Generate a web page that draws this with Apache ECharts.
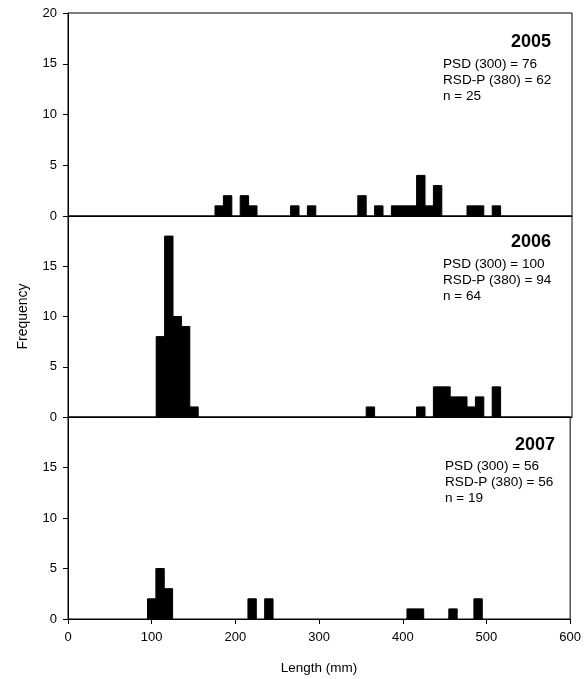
<!DOCTYPE html>
<html>
<head>
<meta charset="utf-8">
<script src="https://cdn.jsdelivr.net/npm/echarts@6/dist/echarts.min.js"></script>
<style>html,body{margin:0;padding:0;background:#fff;}#c{width:584px;height:679px;}</style>
</head>
<body>
<div id="c"></div>
<script>
// Bin centers (mm) and frequencies, 10 mm bins
var bins2005 = [180, 190, 210, 220, 270, 290, 350, 370, 390, 400, 410, 420, 430, 440, 480, 490, 510];
var freq2005 = [1, 2, 2, 1, 1, 1, 2, 1, 1, 1, 1, 4, 1, 3, 1, 1, 1];
var bins2006 = [110, 120, 130, 140, 150, 360, 420, 440, 450, 460, 470, 480, 490, 510];
var freq2006 = [8, 18, 10, 9, 1, 1, 1, 3, 3, 2, 2, 1, 2, 3];
var bins2007 = [100, 110, 120, 220, 240, 410, 420, 460, 490];
var freq2007 = [2, 5, 3, 2, 2, 1, 1, 1, 2];
var years = ['2005', '2006', '2007'];
var statLines = [
  ['PSD (300) = 76', 'RSD-P (380) = 62', 'n = 25'],
  ['PSD (300) = 100', 'RSD-P (380) = 94', 'n = 64'],
  ['PSD (300) = 56', 'RSD-P (380) = 56', 'n = 19']
];
var xTicks = [0, 100, 200, 300, 400, 500, 600];
var binWidth = 10;

var FONT = '"Liberation Sans", Arial, sans-serif';
var chart = echarts.init(document.getElementById('c'), null, {renderer: 'canvas'});

var gridTops = [13, 216, 417];
var gridHeights = [203, 201, 202];
var grids = gridTops.map(function (t, i) {
  return {left: 68, width: 504, top: t, height: gridHeights[i], show: true, borderColor: '#000', borderWidth: 1, backgroundColor: 'transparent'};
});

var xAxes = [0, 1, 2].map(function (i) {
  var last = i === 2;
  return {
    type: 'value', gridIndex: i, min: 0, max: 600, interval: 100,
    axisLine: {show: true, onZero: false, lineStyle: {color: '#000', width: 1}},
    axisTick: {show: last, inside: false, length: 5, lineStyle: {color: '#000'}},
    axisLabel: {show: last, color: '#000', fontFamily: FONT, fontSize: 13, margin: 12,
      formatter: function (v) { return xTicks.indexOf(v) >= 0 ? String(v) : ''; }},
    splitLine: {show: false},
    name: last ? 'Length (mm)' : '', nameLocation: 'middle', nameGap: 42,
    nameTextStyle: {color: '#000', fontFamily: FONT, fontSize: 13.5}
  };
});

var yAxes = [0, 1, 2].map(function (i) {
  return {
    type: 'value', gridIndex: i, min: 0, max: 20, interval: 5,
    axisLine: {show: true, lineStyle: {color: '#000', width: 1}},
    axisTick: {show: true, length: 5, lineStyle: {color: '#000'}},
    axisLabel: {color: '#000', fontFamily: FONT, fontSize: 13, margin: 11,
      formatter: function (v) { return (i > 0 && v === 20) ? '' : String(v); }},
    splitLine: {show: false},
    name: i === 1 ? 'Frequency' : '', nameLocation: 'middle', nameGap: 38,
    nameTextStyle: {color: '#000', fontFamily: FONT, fontSize: 14}
  };
});

function histSeries(bins, freq, idx) {
  return {
    type: 'custom', xAxisIndex: idx, yAxisIndex: idx,
    data: bins.map(function (b, k) { return [b, freq[k]]; }),
    renderItem: function (params, api) {
      var x = api.value(0), y = api.value(1);
      var p1 = api.coord([x - binWidth / 2, y]);
      var p2 = api.coord([x + binWidth / 2, 0]);
      return {type: 'rect', shape: {x: p1[0], y: p1[1], width: p2[0] - p1[0], height: p2[1] - p1[1]},
        style: {fill: '#000', stroke: '#000', lineWidth: 1}};
    },
    silent: true, z: 3
  };
}

var graphics = [];
var yearRight = [551, 551, 555];
var yearY = [42, 242, 445];
var statX = [443, 443, 445];
var statY = [64, 264, 466];
for (var i = 0; i < 3; i++) {
  graphics.push({type: 'text', x: yearRight[i], y: yearY[i], style: {text: years[i], textAlign: 'right', textVerticalAlign: 'middle', font: 'bold 18px ' + FONT, fill: '#000'}});
  for (var j = 0; j < 3; j++) {
    graphics.push({type: 'text', x: statX[i], y: statY[i] + j * 16, style: {text: statLines[i][j], textAlign: 'left', textVerticalAlign: 'middle', font: '13.6px ' + FONT, fill: '#000'}});
  }
}

chart.setOption({
  animation: false,
  backgroundColor: '#fff',
  grid: grids,
  xAxis: xAxes,
  yAxis: yAxes,
  series: [histSeries(bins2005, freq2005, 0), histSeries(bins2006, freq2006, 1), histSeries(bins2007, freq2007, 2)],
  graphic: graphics
});
</script>
</body>
</html>
